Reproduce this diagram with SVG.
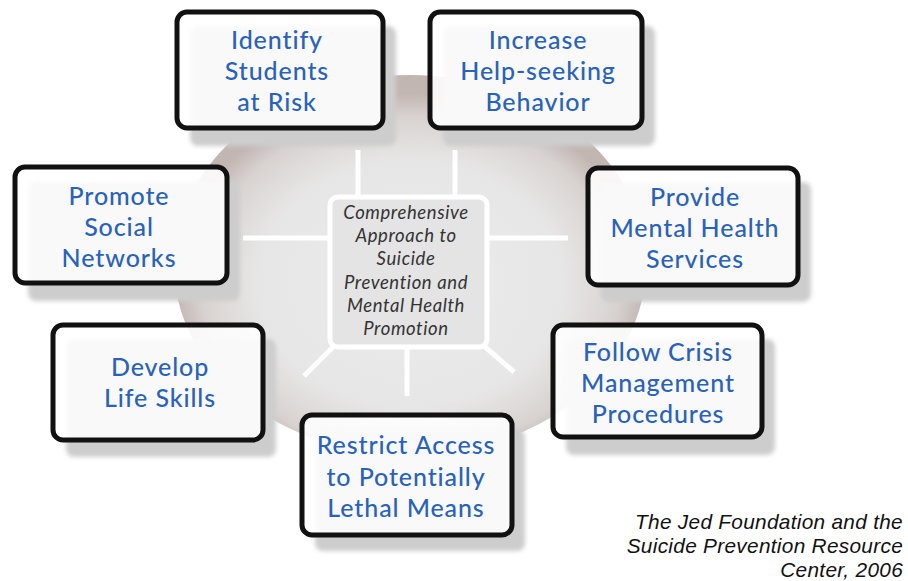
<svg xmlns="http://www.w3.org/2000/svg" width="908" height="581" viewBox="0 0 908 581">
<defs>
<radialGradient id="disc" cx="0.5" cy="0.55" r="0.5">
<stop offset="0" stop-color="#ededed"/>
<stop offset="0.65" stop-color="#e7e6e6"/>
<stop offset="0.88" stop-color="#d8d3d1"/>
<stop offset="1" stop-color="#c2b6b2"/>
</radialGradient>
<filter id="blur" x="-10%" y="-10%" width="120%" height="130%">
<feGaussianBlur stdDeviation="2"/>
</filter>
<style>
.shadow{fill:#cdcdcd;filter:url(#blur);}
.box{fill:#ffffff;fill-opacity:0.88;stroke:#111;stroke-width:5;}
.lbl{font-family:Lato,"Open Sans",sans-serif;font-size:25px;font-weight:500;letter-spacing:0.9px;fill:#2a62b8;text-anchor:middle;}
.ctr{font-family:Lato,"Open Sans",sans-serif;font-size:18.5px;font-style:italic;letter-spacing:0.6px;fill:#333;text-anchor:middle;}
.spoke{stroke:#ffffff;stroke-width:5;fill:none;}
.cite{font-family:"Liberation Sans",Arial,sans-serif;font-size:20.8px;font-style:italic;letter-spacing:0.3px;fill:#111;text-anchor:end;}
</style>
</defs>
<rect width="908" height="581" fill="#ffffff"/>
<ellipse cx="410" cy="265" rx="236" ry="190" fill="url(#disc)"/>

<g id="connectors">
<line class="spoke" x1="243" y1="238" x2="332" y2="238"/>
<line class="spoke" x1="485" y1="238" x2="568" y2="238"/>
<line class="spoke" x1="358" y1="150" x2="358" y2="198"/>
<line class="spoke" x1="455" y1="150" x2="455" y2="198"/>
<line class="spoke" x1="334" y1="346" x2="304" y2="376"/>
<line class="spoke" x1="407" y1="346" x2="407" y2="396"/>
<line class="spoke" x1="484" y1="346" x2="514" y2="372"/>
</g>

<g id="center">
<rect x="330" y="197" width="157" height="150" rx="8" fill="#e4e4e4" stroke="#ffffff" stroke-width="5"/>
<text class="ctr" x="406" y="219">Comprehensive</text>
<text class="ctr" x="406" y="242">Approach to</text>
<text class="ctr" x="406" y="265">Suicide</text>
<text class="ctr" x="406" y="289">Prevention and</text>
<text class="ctr" x="406" y="312">Mental Health</text>
<text class="ctr" x="406" y="335">Promotion</text>
</g>

<g id="identify">
<rect class="shadow" x="190" y="26" width="206" height="120" rx="8"/>
<rect class="box" x="177" y="12" width="206" height="116" rx="10"/>
<text class="lbl" x="277" y="49">Identify</text>
<text class="lbl" x="277" y="80">Students</text>
<text class="lbl" x="277" y="111">at Risk</text>
</g>

<g id="increase">
<rect class="shadow" x="443" y="26" width="212" height="120" rx="8"/>
<rect class="box" x="430" y="12" width="212" height="116" rx="10"/>
<text class="lbl" x="538" y="49">Increase</text>
<text class="lbl" x="538" y="80">Help-seeking</text>
<text class="lbl" x="538" y="111">Behavior</text>
</g>

<g id="promote">
<rect class="shadow" x="28" y="181" width="212" height="120" rx="8"/>
<rect class="box" x="15" y="167" width="212" height="116" rx="10"/>
<text class="lbl" x="119" y="205">Promote</text>
<text class="lbl" x="119" y="236">Social</text>
<text class="lbl" x="119" y="267">Networks</text>
</g>

<g id="provide">
<rect class="shadow" x="601" y="182" width="210" height="120" rx="8"/>
<rect class="box" x="588" y="168" width="210" height="117" rx="10"/>
<text class="lbl" x="695" y="206">Provide</text>
<text class="lbl" x="695" y="237">Mental Health</text>
<text class="lbl" x="695" y="268">Services</text>
</g>

<g id="develop">
<rect class="shadow" x="66" y="339" width="210" height="118" rx="8"/>
<rect class="box" x="53" y="325" width="210" height="115" rx="10"/>
<text class="lbl" x="160" y="376">Develop</text>
<text class="lbl" x="160" y="407">Life Skills</text>
</g>

<g id="follow">
<rect class="shadow" x="566" y="339" width="209" height="116" rx="8"/>
<rect class="box" x="553" y="325" width="209" height="112" rx="10"/>
<text class="lbl" x="658" y="361">Follow Crisis</text>
<text class="lbl" x="658" y="392">Management</text>
<text class="lbl" x="658" y="423">Procedures</text>
</g>

<g id="restrict">
<rect class="shadow" x="315" y="429" width="210" height="122" rx="8"/>
<rect class="box" x="302" y="415" width="210" height="120" rx="10"/>
<text class="lbl" x="406" y="454">Restrict Access</text>
<text class="lbl" x="406" y="486">to Potentially</text>
<text class="lbl" x="406" y="517">Lethal Means</text>
</g>

<g id="citation">
<text class="cite" x="903" y="529">The Jed Foundation and the</text>
<text class="cite" x="903" y="553">Suicide Prevention Resource</text>
<text class="cite" x="903" y="577">Center, 2006</text>
</g>
</svg>
